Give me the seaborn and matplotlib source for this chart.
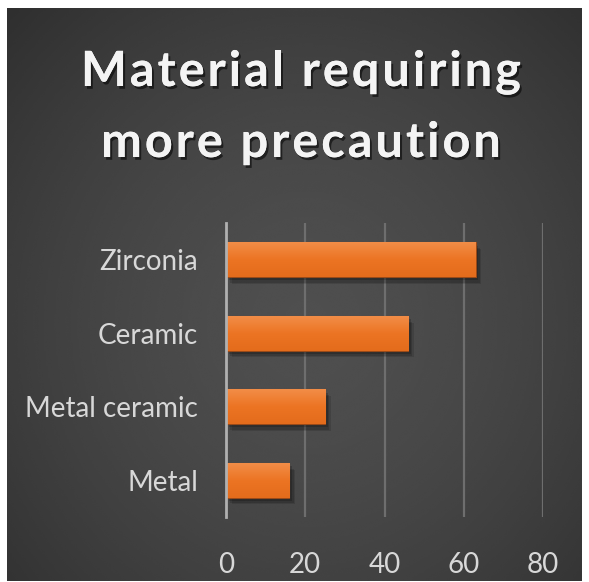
import numpy as np
import matplotlib
matplotlib.use("Agg")
import matplotlib.pyplot as plt
import matplotlib.patheffects as pe
from matplotlib.font_manager import FontProperties
import seaborn as sns
import pandas as pd

# Survey data
categories = ["Zirconia", "Ceramic", "Metal ceramic", "Metal"]
values = [63, 46, 25, 16]
x_ticks = [0, 20, 40, 60, 80]
title_lines = ["Material requiring", "more precaution"]

df = pd.DataFrame({"material": categories, "count": values})

sns.set_theme(style="white")
plt.rcParams["font.family"] = ["Lato", "DejaVu Sans"]

W, H = 589, 582
fig = plt.figure(figsize=(W / 100, H / 100), dpi=100)
fig.patch.set_facecolor("white")

# Dark radial-gradient panel
px0, py0, px1, py1 = 7, 8, 582, 581
bg = fig.add_axes([px0 / W, 1 - py1 / H, (px1 - px0) / W, (py1 - py0) / H])
yy, xx = np.mgrid[0:1:300j, 0:1:300j]
r = np.sqrt(((xx - 0.52) / 0.75) ** 2 + ((yy - 0.55) / 0.8) ** 2)
shade = np.clip(0.31 - 0.13 * r ** 1.6, 0.17, 0.32)
bg.imshow(shade, cmap="gray", vmin=0, vmax=1, extent=[0, 1, 0, 1],
          aspect="auto", interpolation="bicubic")
bg.set_axis_off()

# Title with letter tracking and a soft shadow
title_font = FontProperties(family=["Lato", "DejaVu Sans"], weight="bold", size=35)
title_fx = [pe.withSimplePatchShadow(offset=(1.5, -2), shadow_rgbFace="black", alpha=0.55),
            pe.Normal()]
renderer = fig.canvas.get_renderer()


def char_width(ch):
    if ch == " ":
        w1 = renderer.get_text_width_height_descent("a a", title_font, ismath=False)[0]
        w2 = renderer.get_text_width_height_descent("aa", title_font, ismath=False)[0]
        return w1 - w2
    return renderer.get_text_width_height_descent(ch, title_font, ismath=False)[0]


def tracked_text(line, cx, baseline, tracking):
    widths = [char_width(c) for c in line]
    total = sum(widths) + tracking * (len(line) - 1)
    x = cx - total / 2
    for c, w in zip(line, widths):
        if c != " ":
            fig.text(x / W, 1 - baseline / H, c, ha="left", va="baseline",
                     fontproperties=title_font, color="#f4f4f4", path_effects=title_fx)
        x += w + tracking


tracked_text(title_lines[0], 301, 86, 3.0)
tracked_text(title_lines[1], 301, 157, 3.0)

# Bar chart
ax = fig.add_axes([226 / W, 1 - 517 / H, (543 - 226) / W, (517 - 223) / H])
ax.set_facecolor("none")
sns.barplot(data=df, x="count", y="material", orient="h", ax=ax,
            color="#ee7a2c", width=0.47, edgecolor="#9a4a18", linewidth=0.8)

# Orange vertical gradient and soft drop shadow on each bar
grad = np.linspace(0, 1, 64).reshape(-1, 1)
orange = matplotlib.colors.LinearSegmentedColormap.from_list(
    "orange", ["#f28d47", "#ec7423", "#e46c1c"])
for bar in ax.patches:
    bar.set_path_effects([
        pe.SimplePatchShadow(offset=(4, -5), shadow_rgbFace="black", alpha=0.12),
        pe.SimplePatchShadow(offset=(3, -4), shadow_rgbFace="black", alpha=0.15),
        pe.SimplePatchShadow(offset=(2, -2.5), shadow_rgbFace="black", alpha=0.18),
        pe.Normal()])
    x0, y0 = bar.get_x(), bar.get_y()
    w, h = bar.get_width(), bar.get_height()
    im = ax.imshow(grad, cmap=orange, extent=[x0, x0 + w, y0 + h, y0],
                   aspect="auto", zorder=bar.get_zorder() + 0.1)
    im.set_clip_path(bar)

ax.set_xlim(0, 80)
ax.set_ylim(3.5, -0.5)
ax.set_xticks(x_ticks)
ax.grid(axis="x", color="#6e6e6e", linewidth=1.6)
ax.set_axisbelow(True)
for s in ["top", "right", "bottom"]:
    ax.spines[s].set_visible(False)
ax.spines["left"].set_color("#b0b0b0")
ax.spines["left"].set_linewidth(2)
ax.spines["left"].set_zorder(5)
ax.tick_params(axis="both", length=0, colors="#d8d8d8", labelsize=20)
ax.tick_params(axis="y", pad=20)
ax.tick_params(axis="x", pad=25)
ax.set_xlabel("")
ax.set_ylabel("")

fig.savefig("out.png", dpi=100, facecolor=fig.get_facecolor())
